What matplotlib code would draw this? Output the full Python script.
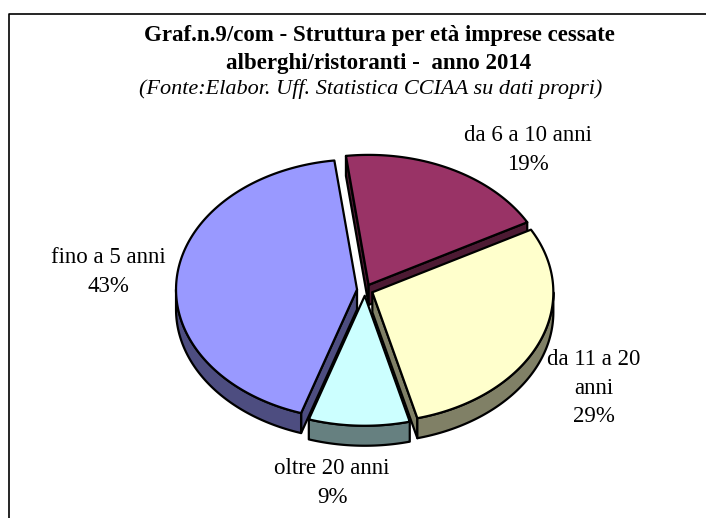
import numpy as np
import matplotlib
matplotlib.use("Agg")
import matplotlib.pyplot as plt
from matplotlib.patches import Polygon

# data
categories = ["fino a 5 anni", "da 6 a 10 anni", "da 11 a 20 anni", "oltre 20 anni"]
values = [43, 19, 29, 9]
top_colors = ["#9999FF", "#993366", "#FFFFCC", "#CCFFFF"]
side_colors = ["#4D4D80", "#4D1A33", "#808066", "#668080"]
label_texts = ["fino a 5 anni\n43%", "da 6 a 10 anni\n19%", "da 11 a 20\nanni\n29%", "oltre 20 anni\n9%"]
label_pos = [(108, 272), (528, 150), (594, 388), (332, 483)]

W, H = 706, 518
fig = plt.figure(figsize=(W / 100, H / 100), dpi=100)
ax = fig.add_axes([0, 0, 1, 1])
ax.set_xlim(0, W)
ax.set_ylim(H, 0)
ax.axis("off")

# frame (only top and left visible)
ax.plot([8.5, 8.5, W], [H, 13.5, 13.5], color="black", lw=1.2)

serif = ["Liberation Serif", "DejaVu Serif"]
ax.text(379, 36, "Graf.n.9/com - Struttura per età imprese cessate", ha="center", va="center",
        fontsize=16.5, fontweight="bold", family=serif)
ax.text(379, 63, "alberghi/ristoranti -  anno 2014", ha="center", va="center",
        fontsize=16.5, fontweight="bold", family=serif)
ax.text(371, 89, "(Fonte:Elabor. Uff. Statistica CCIAA su dati propri)", ha="center", va="center",
        fontsize=16, style="italic", family=serif)

# 3D pie geometry
cx, cy = 365, 290
rx, ry = 181, 130
depth = 20
explode = 8
start_angle = 198.0

total = sum(values)
angles = []
a = start_angle
for v in values:
    b = a + 360.0 * v / total
    angles.append((a, b))
    a = b


def pt(ox, oy, th, dz=0.0):
    t = np.radians(th)
    return ox + rx * np.sin(t), oy - ry * np.cos(t) + dz


slices = []
for i, (a, b) in enumerate(angles):
    m = np.radians((a + b) / 2)
    ox = cx + explode * np.sin(m)
    oy = cy - explode * np.cos(m) * ry / rx
    slices.append((ox, oy, a, b))

# side faces
side_polys = []
for i, (ox, oy, a, b) in enumerate(slices):
    # outer curved side, front part (90..270 deg, modulo 360)
    for k in range(-1, 2):
        lo = max(a, 90 + 360 * k)
        hi = min(b, 270 + 360 * k)
        if hi > lo:
            th = np.linspace(lo, hi, 80)
            top = [pt(ox, oy, t) for t in th]
            bot = [pt(ox, oy, t, depth) for t in th[::-1]]
            side_polys.append((oy + 1, Polygon(top + bot, closed=True, fc=side_colors[i],
                                               ec="black", lw=1.6, joinstyle="round")))
    # radial faces
    for th, vis in ((a, np.sin(np.radians(a)) < 0), (b, np.sin(np.radians(b)) > 0)):
        if vis:
            p = pt(ox, oy, th)
            poly = [(ox, oy), p, (p[0], p[1] + depth), (ox, oy + depth)]
            side_polys.append((oy, Polygon(poly, closed=True, fc=side_colors[i],
                                           ec="black", lw=1.6, joinstyle="round")))

for _, p in sorted(side_polys, key=lambda s: s[0]):
    ax.add_patch(p)

# top faces
for i, (ox, oy, a, b) in enumerate(slices):
    th = np.linspace(a, b, 200)
    poly = [(ox, oy)] + [pt(ox, oy, t) for t in th]
    ax.add_patch(Polygon(poly, closed=True, fc=top_colors[i], ec="black", lw=1.6,
                         joinstyle="round"))

for txt, (x, y) in zip(label_texts, label_pos):
    ax.text(x, y, txt, ha="center", va="center", fontsize=16.5, family=serif,
            linespacing=1.45)

fig.savefig("out.png", dpi=100)
